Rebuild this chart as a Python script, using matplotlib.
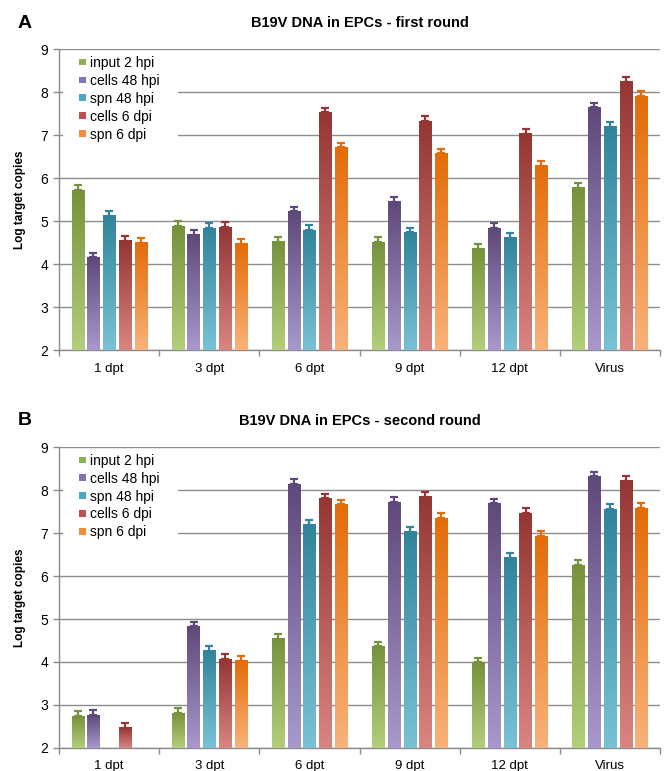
import numpy as np
import matplotlib
matplotlib.use("Agg")
import matplotlib.pyplot as plt
from matplotlib.colors import LinearSegmentedColormap
from matplotlib.patches import Rectangle, Patch

plt.rcParams["font.family"] = ["Liberation Sans", "DejaVu Sans"]

# --- data ---
categories = ["1 dpt", "3 dpt", "6 dpt", "9 dpt", "12 dpt", "Virus"]
series = ["input 2 hpi", "cells 48 hpi", "spn 48 hpi", "cells 6 dpi", "spn 6 dpi"]

# panel A - first round
a_input = [5.72, 4.88, 4.52, 4.51, 4.36, 5.78]
a_cells48 = [4.16, 4.68, 5.23, 5.45, 4.84, 7.65]
a_spn48 = [5.13, 4.84, 4.79, 4.74, 4.61, 7.20]
a_cells6 = [4.54, 4.86, 7.53, 7.33, 7.03, 8.24]
a_spn6 = [4.50, 4.47, 6.72, 6.58, 6.29, 7.91]

# panel B - second round (missing bars = nan)
b_input = [2.74, 2.81, 4.54, 4.36, 3.99, 6.26]
b_cells48 = [2.76, 4.83, 8.14, 7.72, 7.69, 8.32]
b_spn48 = [np.nan, 4.26, 7.20, 7.03, 6.43, 7.56]
b_cells6 = [2.47, 4.07, 7.81, 7.85, 7.47, 8.22]
b_spn6 = [np.nan, 4.03, 7.67, 7.35, 6.93, 7.58]

# upper error bars
a_err = [0.12, 0.11, 0.11, 0.11, 0.11]
b_err = [0.11, 0.11, 0.11, 0.11, 0.11]

# dark (top) / light (bottom) colours per series, plus legend swatch
dark = ["#76923C", "#5F497A", "#31849B", "#943634", "#E36C09"]
light = ["#B4CF7C", "#A898CC", "#79C2D6", "#D98581", "#F9B27A"]
swatch = ["#8DB452", "#8872AE", "#4AA8C2", "#C0504D", "#F58A3A"]

grid_col = "#8C8C8C"


def draw_panel(ax, data, errs, title, letter):
    n = len(series)
    pitch = 0.157
    width = 0.122
    x = np.arange(len(categories))
    ymin = 2
    for k, vals in enumerate(data):
        cmap = LinearSegmentedColormap.from_list("g%d" % k, [light[k], dark[k]])
        grad = np.linspace(0, 1, 128).reshape(-1, 1)
        for i, v in enumerate(vals):
            if np.isnan(v):
                continue
            xc = x[i] + (k - (n - 1) / 2) * pitch
            ax.imshow(grad, cmap=cmap, origin="lower", aspect="auto",
                      extent=[xc - width / 2, xc + width / 2, ymin, v], zorder=3)
            ax.errorbar(xc, v, yerr=[[0], [errs[k]]], color=dark[k], lw=1.6,
                        capsize=3.2, capthick=1.6, zorder=4)

    ax.set_xlim(-0.5, len(categories) - 0.5)
    ax.set_ylim(2, 9)
    ax.set_yticks(range(2, 10))
    ax.yaxis.grid(True, color=grid_col, lw=1.0, zorder=0)
    ax.set_axisbelow(True)
    ax.set_xticks(x)
    ax.set_xticklabels(categories, fontsize=9.5)
    ax.set_xticks(np.arange(-0.5, len(categories)), minor=True)
    ax.tick_params(axis="x", which="major", length=0, pad=9)
    ax.tick_params(axis="x", which="minor", length=4, color=grid_col, width=1)
    ax.tick_params(axis="y", length=4, color=grid_col, width=1, labelsize=10, pad=4)
    for s in ["top", "right"]:
        ax.spines[s].set_visible(False)
    for s in ["left", "bottom"]:
        ax.spines[s].set_color(grid_col)
        ax.spines[s].set_linewidth(1.0)
    ax.set_ylabel("Log target copies", fontsize=8.5, fontweight="bold", labelpad=10)
    ax.set_title(title, fontsize=10.5, fontweight="bold", pad=16)

    # white legend area hiding the gridlines
    ax.add_patch(Rectangle((0.006, 6.78), 0.192, 2.1,
                           transform=ax.get_yaxis_transform(),
                           facecolor="white", edgecolor="none", zorder=1))
    handles = [Patch(facecolor=swatch[k], edgecolor="none") for k in range(n)]
    ax.legend(handles, series, loc="upper left", bbox_to_anchor=(0.033, 0.978),
              fontsize=10, frameon=False, handlelength=0.5, handleheight=0.35,
              handletextpad=0.3, labelspacing=0.28, borderpad=0.0,
              borderaxespad=0.0)
    ax.figure.text(0.026, ax.get_position().y1 + 0.034, letter, fontsize=14,
                   fontweight="bold", va="center")


fig = plt.figure(figsize=(6.64, 7.71), dpi=100)
ax1 = fig.add_axes([0.089, 0.546, 0.905, 0.390])
ax2 = fig.add_axes([0.089, 0.030, 0.905, 0.390])

draw_panel(ax1, [a_input, a_cells48, a_spn48, a_cells6, a_spn6], a_err,
           "B19V DNA in EPCs - first round", "A")
draw_panel(ax2, [b_input, b_cells48, b_spn48, b_cells6, b_spn6], b_err,
           "B19V DNA in EPCs - second round", "B")

fig.savefig("out.png", dpi=100)
